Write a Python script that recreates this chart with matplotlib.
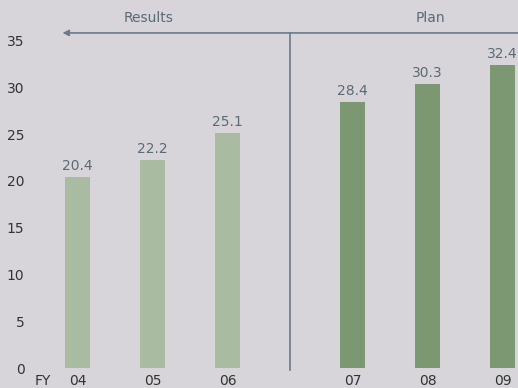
import matplotlib.pyplot as plt

years = ["04", "05", "06", "07", "08", "09"]
values = [20.4, 22.2, 25.1, 28.4, 30.3, 32.4]
is_plan = [False, False, False, True, True, True]
yticks = [0, 5, 10, 15, 20, 25, 30, 35]

bg = "#d7d5d9"
light_green = "#a9bca2"
dark_green = "#7b9873"
line_col = "#687c8b"
label_col = "#5a6a77"
tick_col = "#333333"

plt.rcParams["font.family"] = ["DejaVu Sans"]

fig = plt.figure(figsize=(5.18, 3.88), dpi=100, facecolor=bg)
ax = fig.add_axes([30 / 518, 20 / 388, 488 / 518, 368 / 388])
ax.set_facecolor(bg)

# plan years sit a bit further right, past the divider
pos = [i + (0.667 if p else 0) for i, p in enumerate(is_plan)]
colors = [dark_green if p else light_green for p in is_plan]
bars = ax.bar(pos, values, width=0.333, color=colors)

for b, v in zip(bars, values):
    ax.annotate(f"{v}", (b.get_x() + b.get_width() / 2, v), xytext=(0, 3),
                textcoords="offset points", ha="center", va="bottom",
                fontsize=10, color=label_col)

ax.set_xlim(-0.633, 5.873)
ax.set_ylim(0, 39.32)
ax.set_yticks(yticks)
ax.set_xticks(pos)
ax.set_xticklabels(years)
ax.tick_params(length=0, labelsize=10, colors=tick_col)
ax.tick_params(axis="y", pad=4)
ax.tick_params(axis="x", pad=4)
for s in ax.spines.values():
    s.set_visible(False)

# results / plan header with divider
top = 35.8
ax.annotate("", xy=(-0.2, top), xytext=(5.9, top),
            arrowprops=dict(arrowstyle="-|>", color=line_col, lw=1.2,
                            mutation_scale=9, shrinkA=0, shrinkB=0),
            annotation_clip=False)
ax.plot([2.833, 2.833], [-0.2, top], color=line_col, lw=1.2, clip_on=False)
ax.text(0.95, 37.4, "Results", ha="center", va="center", fontsize=10, color=label_col)
ax.text(4.7, 37.4, "Plan", ha="center", va="center", fontsize=10, color=label_col)
ax.annotate("FY", (-0.57, 0), xytext=(0, -4), textcoords="offset points",
            ha="left", va="top", fontsize=10, color=tick_col,
            annotation_clip=False)

fig.savefig("out.png", dpi=100, facecolor=bg)
